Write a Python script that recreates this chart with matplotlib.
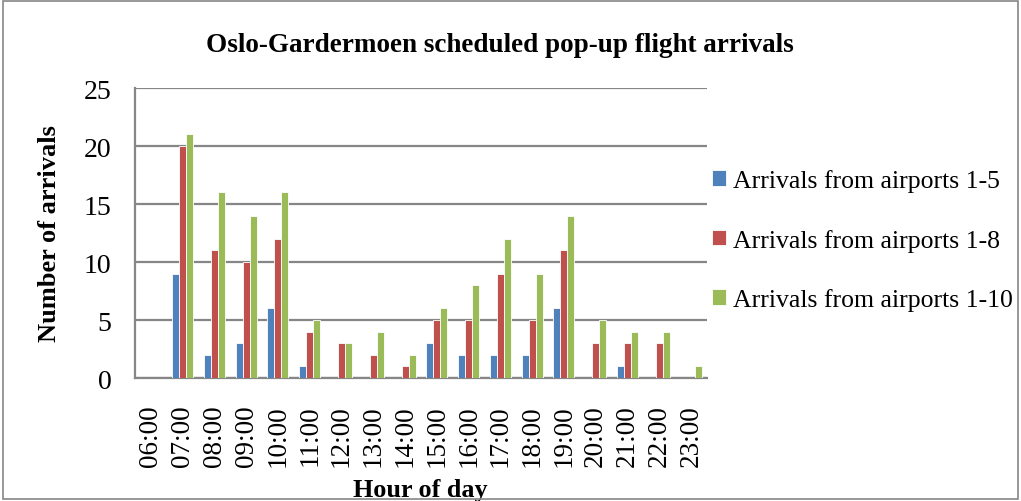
import matplotlib
matplotlib.use("Agg")
import matplotlib.pyplot as plt
import numpy as np

hours = ["06:00", "07:00", "08:00", "09:00", "10:00", "11:00", "12:00", "13:00", "14:00",
         "15:00", "16:00", "17:00", "18:00", "19:00", "20:00", "21:00", "22:00", "23:00"]
arr_1_5 = [0, 9, 2, 3, 6, 1, 0, 0, 0, 3, 2, 2, 2, 6, 0, 1, 0, 0]
arr_1_8 = [0, 20, 11, 10, 12, 4, 3, 2, 1, 5, 5, 9, 5, 11, 3, 3, 3, 0]
arr_1_10 = [0, 21, 16, 14, 16, 5, 3, 4, 2, 6, 8, 12, 9, 14, 5, 4, 4, 1]
series_names = ["Arrivals from airports 1-5", "Arrivals from airports 1-8", "Arrivals from airports 1-10"]
colors = ["#4F81BD", "#C0504D", "#9BBB59"]

plt.rcParams['font.family'] = ['Liberation Serif', 'DejaVu Serif']

fig = plt.figure(figsize=(10.21, 5.02), dpi=100)
ax = fig.add_axes([0.1322, 0.245, 0.5602, 0.5777])

x = np.arange(len(hours))
w = 0.22
for i, (vals, name, c) in enumerate(zip([arr_1_5, arr_1_8, arr_1_10], series_names, colors)):
    ax.bar(x + (i - 1) * w, vals, width=w, color=c, label=name, edgecolor='white', linewidth=0.6, zorder=3)

ax.set_xlim(-0.5, len(hours) - 0.5)
ax.set_ylim(0, 25)
ax.set_yticks(range(0, 26, 5))
ax.yaxis.grid(True, color='#868686', linewidth=1.6, zorder=0)
ax.set_axisbelow(True)
for s in ['top', 'right']:
    ax.spines[s].set_visible(False)
ax.spines['left'].set_color('#868686')
ax.spines['left'].set_linewidth(1.6)
ax.spines['bottom'].set_color('#868686')
ax.spines['bottom'].set_linewidth(1.6)
ax.set_xticks(x)
ax.set_xticklabels(hours, rotation=90, fontsize=19.5)
ax.tick_params(axis='y', labelsize=20, length=0, pad=17)
ax.tick_params(axis='x', length=0, pad=19)

ax.set_xlabel("Hour of day", fontsize=18.8, fontweight='bold')
ax.xaxis.set_label_coords(0.498, -0.386)
ax.xaxis.label.set_va('center')
ax.set_ylabel("Number of arrivals", fontsize=19, fontweight='bold', labelpad=16)
fig.text(0.49, 0.91, "Oslo-Gardermoen scheduled pop-up flight arrivals", ha='center', va='center',
         fontsize=19.5, fontweight='bold')

leg = ax.legend(loc='center left', bbox_to_anchor=(1.0, 0.475), frameon=False, fontsize=18.5,
                handlelength=0.55, handleheight=0.55, handletextpad=0.25, labelspacing=1.42,
                borderpad=0.0, borderaxespad=0.2)

border = plt.Rectangle((0.003, 0.003), 0.994, 0.994, transform=fig.transFigure, fill=False,
                       edgecolor='#868686', linewidth=1.2)
fig.patches.append(border)

fig.savefig("out.png", dpi=100)
